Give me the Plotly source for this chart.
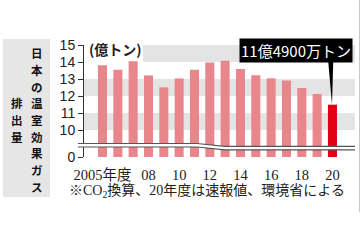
import plotly.graph_objects as go

# ---- data ----
years = list(range(2005, 2021))
emissions = [13.81, 13.55, 14.04, 13.21, 12.51, 13.03, 13.54, 13.97, 14.08,
             13.59, 13.22, 13.04, 12.91, 12.47, 12.12, 11.49]  # 億トン
label_years = [2005, 2008, 2010, 2012, 2014, 2016, 2018, 2020]
x_labels = ["2005年度", "08", "10", "12", "14", "16", "18", "20"]
y_ticks = [10, 11, 12, 13, 14, 15]
y_tick_labels = ["10", "11", "12", "13", "14", "15"]
title_col1 = "日本の温室効果ガス"
title_col2 = "排出量"
unit_label = "(億トン)"
callout_text = "11億4900万トン"
note_text = "※CO<sub>2</sub>換算、20年度は速報値、環境省による"

# ---- geometry helpers (pixels -> paper) ----
W, H = 360, 240
L, R, T, B = 84, 5, 45, 83
PW, PH = W - L - R, H - T - B
PX_PER_UNIT = 17.0
ZERO = 15 - PH / PX_PER_UNIT          # display position of the "0" tick
YEAR_PX = 15.33
X0 = 2005 - (102.5 - L) / YEAR_PX
X1 = X0 + PW / YEAR_PX


def xp(px):
    return (px - L) / PW


def yp(py):
    return (H - B - py) / PH


def yd(py):
    return 15 - (py - T) / PX_PER_UNIT


light = "#e8868c"
red = "#e00012"
colors = [red if y == years[-1] else light for y in years]

fig = go.Figure()

fig.add_bar(
    x=years,
    y=[v - ZERO for v in emissions],
    base=ZERO,
    width=0.59,
    marker=dict(color=colors, line=dict(width=0)),
)

# dots under each year
fig.add_scatter(
    x=years,
    y=[yd(163)] * len(years),
    mode="markers",
    marker=dict(size=[5.5 if y in label_years else 3.5 for y in years], color="#111"),
    cliponaxis=False,
)

shapes = []
# gray bands
for lo, hi in [(14, 15), (12, 13), (10, 11)]:
    shapes.append(dict(type="rect", xref="paper", yref="y",
                       x0=xp(143) if hi == 15 else 0, x1=1, y0=lo, y1=hi,
                       fillcolor="#e4e4e4", line=dict(width=0), layer="below"))

# axis break (white gap with two stepped lines)
xa, xb, xc, xd = xp(78), xp(197), xp(225), 1.0
t1, t2 = yd(143.5), yd(146.3)
b1, b2 = yd(147.0), yd(149.8)
gap = (f"M {xa},{t1} L {xb},{t1} L {xc},{t2} L {xd},{t2} "
       f"L {xd},{b2} L {xc},{b2} L {xb},{b1} L {xa},{b1} Z")
shapes.append(dict(type="path", xref="paper", yref="y", path=gap,
                   fillcolor="white", line=dict(width=0), layer="above"))
for a, b in [(t1, t2), (b1, b2)]:
    shapes.append(dict(type="path", xref="paper", yref="y",
                       path=f"M {xa},{a} L {xb},{a} L {xc},{b} L {xd},{b}",
                       line=dict(color="#555", width=1.2), layer="above"))

# callout wedge to 2020 bar
x20, v20 = years[-1], emissions[-1]
ytop = yd(57)
shapes.append(dict(type="path", xref="x", yref="y",
                   path=f"M {x20-0.3},{ytop} L {x20+0.06},{ytop} L {x20-0.03},{v20} Z",
                   fillcolor="#000", line=dict(width=0), layer="above"))

# title box
shapes.append(dict(type="rect", xref="paper", yref="paper",
                   x0=xp(3), x1=xp(50), y0=yp(197), y1=yp(39),
                   fillcolor="#e6e6e6", line=dict(width=0), layer="below"))
# right frame line
shapes.append(dict(type="line", xref="paper", yref="paper",
                   x0=xp(359.5), x1=xp(359.5), y0=yp(0), y1=yp(212),
                   line=dict(color="#c8c8c8", width=1)))

annotations = []
jp = "Noto Sans CJK JP"
# vertical title: one annotation per character
PITCH = 16.7
TSIZE = 11.5
for col_text, cx in [(title_col1, 37), (title_col2, 17)]:
    n = len(col_text)
    for i, ch in enumerate(col_text):
        cy = 120 + (i - (n - 1) / 2) * PITCH
        annotations.append(dict(text=ch, xref="paper", yref="paper",
                                x=xp(cx), y=yp(cy), showarrow=False,
                                xanchor="center", yanchor="middle",
                                font=dict(family=jp, size=TSIZE, color="#111", weight="bold")))
# unit label
annotations.append(dict(text=unit_label, xref="paper", yref="paper", x=xp(87), y=yp(49),
                        showarrow=False, xanchor="left", yanchor="middle",
                        font=dict(family=jp, size=14, color="#222", weight="bold")))
# callout box
annotations.append(dict(text=callout_text, xref="paper", yref="paper", x=xp(296), y=yp(50.5),
                        showarrow=False, xanchor="center", yanchor="middle",
                        bgcolor="#000", borderpad=1,
                        font=dict(family=jp, size=15, color="#fff")))
# note
annotations.append(dict(text=note_text, xref="paper", yref="paper", x=xp(67), y=yp(191.5),
                        showarrow=False, xanchor="left", yanchor="middle",
                        font=dict(family="Liberation Serif, " + jp, size=14, color="#222")))

fig.update_layout(
    width=W, height=H,
    margin=dict(l=L, r=R, t=T, b=B, pad=0),
    paper_bgcolor="white", plot_bgcolor="white",
    showlegend=False,
    shapes=shapes,
    annotations=annotations,
    xaxis=dict(range=[X0, X1], tickvals=label_years, ticktext=x_labels,
               ticks="outside", ticklen=5, tickcolor="rgba(0,0,0,0)",
               showline=False, showgrid=False, zeroline=False,
               tickfont=dict(family="Liberation Serif, " + jp, size=14.5, color="#222")),
    yaxis=dict(range=[ZERO, 15], tickvals=[ZERO] + y_ticks, ticktext=["0"] + y_tick_labels,
               ticks="outside", ticklen=5, tickcolor="#333", tickwidth=1,
               showline=True, linecolor="#333", linewidth=1,
               showgrid=False, zeroline=False,
               tickfont=dict(family="Liberation Sans", size=14, color="#222")),
)

fig.write_html("out.html")
